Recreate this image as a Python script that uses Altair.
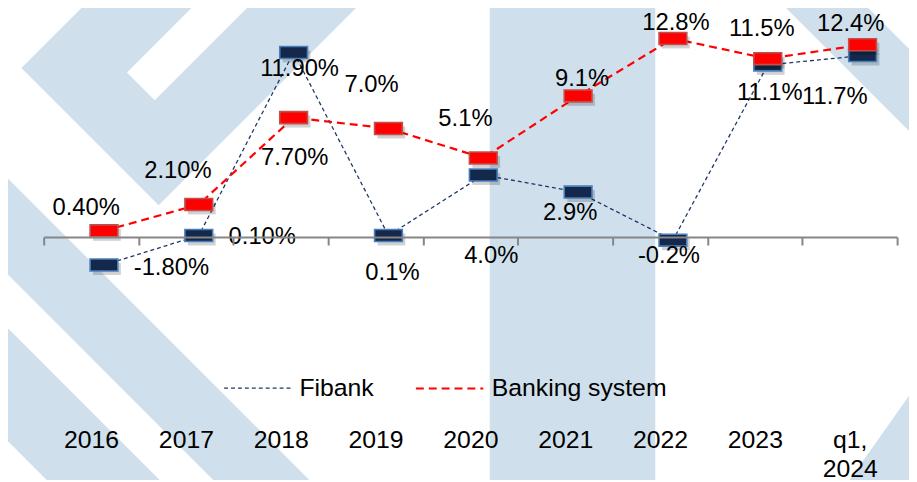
import urllib.parse
import altair as alt
import pandas as pd

# ---------------- data ----------------
years = ["2016", "2017", "2018", "2019", "2020", "2021", "2022", "2023", "q1, 2024"]
fibank = [-1.80, 0.10, 11.90, 0.1, 4.0, 2.9, -0.2, 11.1, 11.7]
banking = [0.40, 2.10, 7.70, 7.0, 5.1, 9.1, 12.8, 11.5, 12.4]
fibank_labels = ["-1.80%", "0.10%", "11.90%", "0.1%", "4.0%", "2.9%", "-0.2%", "11.1%", "11.7%"]
banking_labels = ["0.40%", "2.10%", "7.70%", "7.0%", "5.1%", "9.1%", "12.8%", "11.5%", "12.4%"]
series = ["Fibank", "Banking system"]

rows = []
for s, vals, labs in [("Fibank", fibank, fibank_labels), ("Banking system", banking, banking_labels)]:
    for y, v, l in zip(years, vals, labs):
        rows.append({"year": y, "series": s, "value": v, "label": l})
df = pd.DataFrame(rows)

# ---------------- style ----------------
FONT = "Liberation Sans"
PLOT_W, PLOT_H = 861, 410
Y_TOP, Y_BOT = 14.377, -11.82
ZERO_PX = PLOT_H * Y_TOP / (Y_TOP - Y_BOT)
SHIFT = 13  # markers sit right of category centre in the original

NAVY = "#13284a"
NAVY_LINE = "#1f3864"
NAVY_EDGE = "#4a7ebb"
RED = "#ff0000"
RED_EDGE = "#c0504d"
WATER = "#cfe0ec"

# label offsets (dx, dy) relative to marker centre
label_offsets = {
    ("Banking system", "2016"): (-18, -23),
    ("Banking system", "2017"): (-21, -34),
    ("Banking system", "2018"): (1, 41),
    ("Banking system", "2019"): (-17, -44),
    ("Banking system", "2020"): (-18, -39),
    ("Banking system", "2021"): (4, -17),
    ("Banking system", "2022"): (3, -16),
    ("Banking system", "2023"): (-6, -30),
    ("Banking system", "q1, 2024"): (-12, -21),
    ("Fibank", "2016"): (68, 3),
    ("Fibank", "2017"): (64, 2),
    ("Fibank", "2018"): (6, 17),
    ("Fibank", "2019"): (4, 38),
    ("Fibank", "2020"): (8, 82),
    ("Fibank", "2021"): (-8, 21),
    ("Fibank", "2022"): (-4, 16),
    ("Fibank", "2023"): (2, 28),
    ("Fibank", "q1, 2024"): (-28, 42),
}

# ---------------- watermark background ----------------
svg = (
    '<svg xmlns="http://www.w3.org/2000/svg" width="917" height="482" viewBox="0 0 917 482">'
    f'<g fill="{WATER}">'
    '<path fill-rule="evenodd" d="M88,0 L21.5,66.5 L160,205 L365,0 Z M199,0 L128,71 L156,99 L255,0 Z"/>'
    '<path d="M0,170 L312,482 L215,482 L0,267 Z"/>'
    '<path d="M0,321 L161,482 L47,482 L0,435 Z"/>'
    '<path d="M494,0 L661,0 L661,482 L494,482 Z"/>'
    '<path d="M787,0 L870,0 L917,47 L917,130 Z"/>'
    '<path d="M857,482 L917,482 L917,397 Z"/>'
    '</g></svg>'
)
bg_url = "data:image/svg+xml;charset=utf-8," + urllib.parse.quote(svg)

bg = alt.Chart(pd.DataFrame({"k": [0]})).mark_image(
    aspect=False, align="left", baseline="top", width=917, height=482
).encode(x=alt.value(-44), y=alt.value(-12), url=alt.value(bg_url))

# ---------------- encodings ----------------
x_enc = alt.X(
    "year:N",
    sort=years,
    scale=alt.Scale(type="band", paddingInner=0, paddingOuter=0),
    axis=alt.Axis(
        title=None,
        orient="bottom",
        offset=-(PLOT_H - ZERO_PX),
        zindex=1,
        domain=True,
        domainColor="#868686",
        domainWidth=2,
        ticks=True,
        tickBand="extent",
        tickSize=8,
        tickColor="#868686",
        tickWidth=2,
        grid=False,
        labelAngle=0,
        labelPadding=184,
        labelFontSize=25,
        labelFont=FONT,
        labelColor="#000000",
        labelBaseline="top",
        labelLineHeight=30,
        labelOverlap=False,
        labelExpr="split(replace(datum.label, ', ', ',|'), '|')",
    ),
)
y_enc = alt.Y(
    "value:Q",
    scale=alt.Scale(domain=[Y_BOT, Y_TOP], nice=False, zero=False),
    axis=None,
)

legend = alt.Legend(
    title=None,
    orient="none",
    legendX=181,
    legendY=342,
    direction="horizontal",
    symbolType="stroke",
    symbolSize=4624,
    labelFontSize=25,
    labelFont=FONT,
    labelColor="#000000",
    labelOffset=7,
    labelLimit=400,
    columnPadding=37,
    padding=0,
)

lines = alt.Chart(df).mark_line(xOffset=SHIFT).encode(
    x=x_enc,
    y=y_enc,
    color=alt.Color("series:N", scale=alt.Scale(domain=series, range=[NAVY_LINE, RED]), legend=legend),
    strokeDash=alt.StrokeDash("series:N", scale=alt.Scale(domain=series, range=[[4, 3], [8, 5]]), legend=legend),
    strokeWidth=alt.StrokeWidth("series:N", scale=alt.Scale(domain=series, range=[1.3, 2.2]), legend=legend),
    detail="series:N",
)

RECT = "M-1,-0.43L1,-0.43L1,0.43L-1,0.43Z"

layers = [bg, lines]

for s, fill, edge in [("Fibank", NAVY, NAVY_EDGE), ("Banking system", RED, RED_EDGE)]:
    base = alt.Chart(df).transform_filter(alt.datum.series == s)
    shadow = base.mark_point(
        shape=RECT, size=784, filled=True, fill="#000000", opacity=0.18,
        strokeWidth=0, xOffset=SHIFT + 3, yOffset=4,
    ).encode(x=x_enc, y=y_enc)
    marker = base.mark_point(
        shape=RECT, size=784, filled=True, fill=fill, opacity=1,
        stroke=edge, strokeWidth=1.6, xOffset=SHIFT,
    ).encode(x=x_enc, y=y_enc)
    layers += [shadow, marker]

for (s, yr), (dx, dy) in label_offsets.items():
    t = alt.Chart(df).transform_filter(
        (alt.datum.series == s) & (alt.datum.year == yr)
    ).mark_text(
        dx=SHIFT + dx, dy=dy, fontSize=24, font=FONT, color="#000000",
        align="center", baseline="middle",
    ).encode(x=x_enc, y=y_enc, text="label:N")
    layers.append(t)

chart = alt.layer(*layers).properties(
    width=PLOT_W,
    height=PLOT_H,
    autosize=alt.AutoSizeParams(type="none"),
    padding={"left": 36, "top": 4, "right": 12, "bottom": 60},
).configure(background="white", view=alt.ViewConfig(stroke=None))

chart.save("out.html", embed_options={"renderer": "svg", "actions": False})
